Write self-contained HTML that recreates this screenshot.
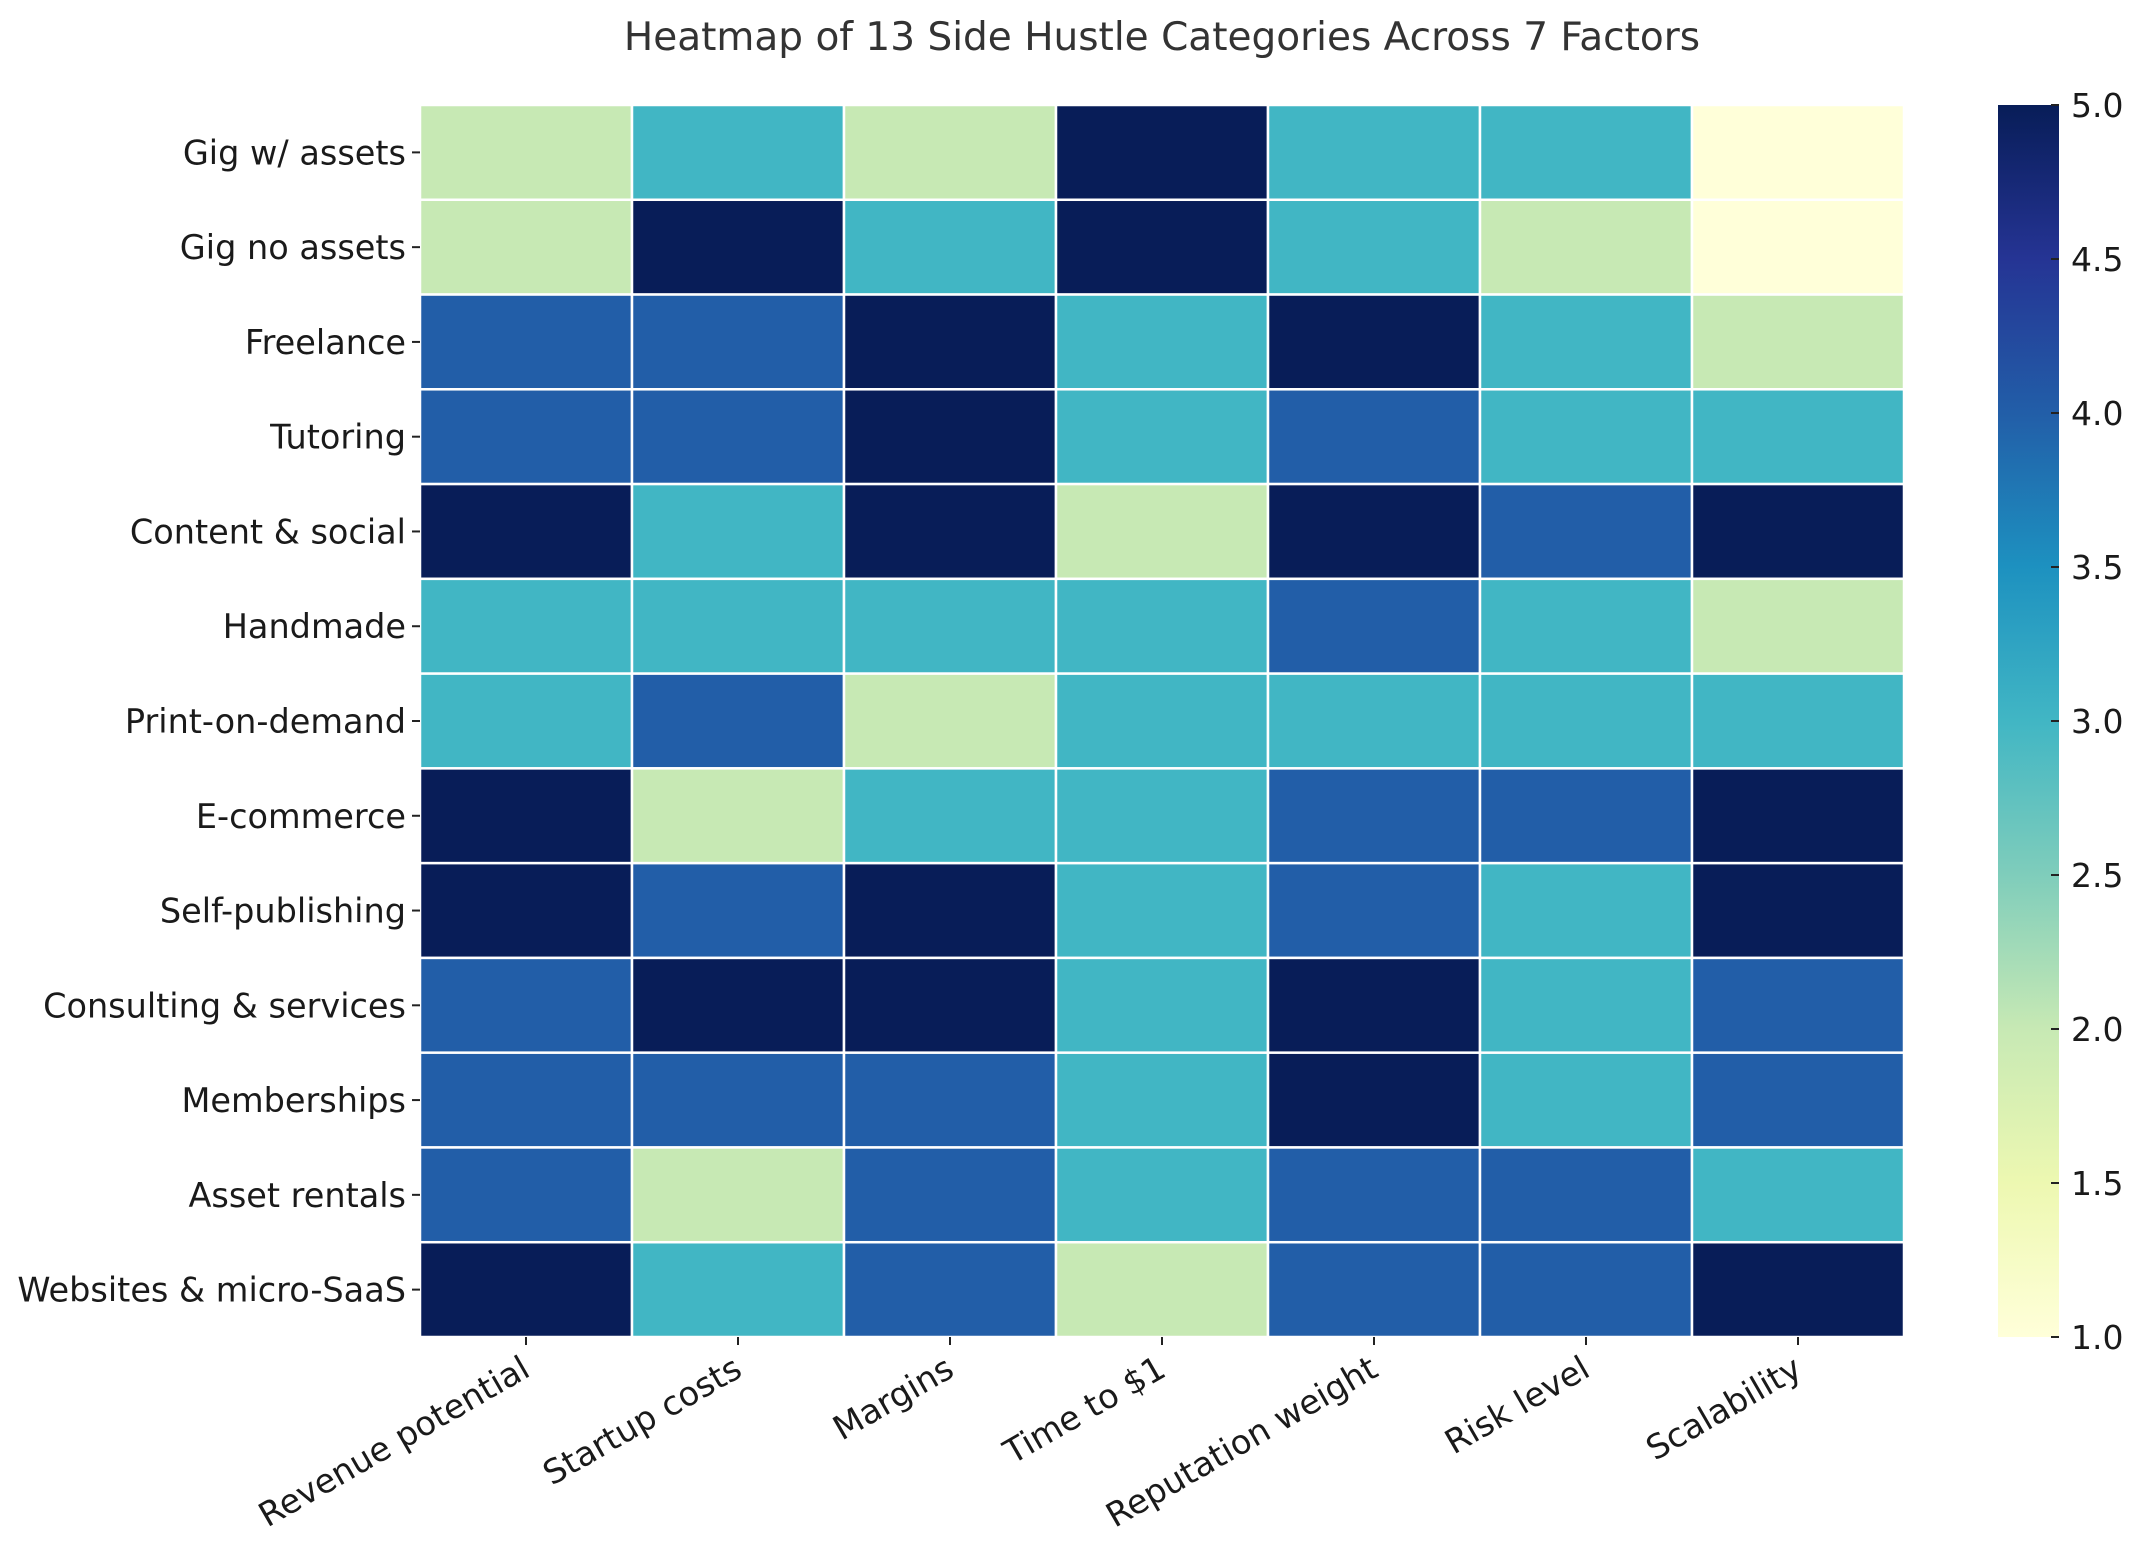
<!DOCTYPE html>
<html><head><meta charset="utf-8"><style>
html,body{margin:0;padding:0;background:#fff;}
svg{display:block;font-family:"DejaVu Sans","Liberation Sans",sans-serif;}
</style></head><body>
<svg id="chart" width="2142" height="1548" viewBox="0 0 2142 1548" xmlns="http://www.w3.org/2000/svg">
<defs>
<linearGradient id="cbgrad" x1="0" y1="1" x2="0" y2="0">
<stop offset="0" stop-color="#ffffd9"/><stop offset="0.125" stop-color="#edf8b1"/><stop offset="0.25" stop-color="#c7e9b4"/><stop offset="0.375" stop-color="#7fcdbb"/><stop offset="0.5" stop-color="#41b6c4"/><stop offset="0.625" stop-color="#1d91c0"/><stop offset="0.75" stop-color="#225ea8"/><stop offset="0.875" stop-color="#253494"/><stop offset="1" stop-color="#081d58"/>
</linearGradient>
</defs>
<text x="1162" y="50" text-anchor="middle" font-size="39" fill="#333">Heatmap of 13 Side Hustle Categories Across 7 Factors</text>
<g id="cells"></g>
<g id="yaxis"></g>
<g id="xaxis"></g>
<rect x="1998" y="105" width="61" height="1232" fill="url(#cbgrad)"/>
<g id="cbaxis"></g>
</svg>
<script>
const categories = ["Gig w/ assets","Gig no assets","Freelance","Tutoring","Content & social","Handmade","Print-on-demand","E-commerce","Self-publishing","Consulting & services","Memberships","Asset rentals","Websites & micro-SaaS"];
const factors = ["Revenue potential","Startup costs","Margins","Time to $1","Reputation weight","Risk level","Scalability"];
const values = [
[2,3,2,5,3,3,1],
[2,5,3,5,3,2,1],
[4,4,5,3,5,3,2],
[4,4,5,3,4,3,3],
[5,3,5,2,5,4,5],
[3,3,3,3,4,3,2],
[3,4,2,3,3,3,3],
[5,2,3,3,4,4,5],
[5,4,5,3,4,3,5],
[4,5,5,3,5,3,4],
[4,4,4,3,5,3,4],
[4,2,4,3,4,4,3],
[5,3,4,2,4,4,5]
];
const cbTicks = [1.0,1.5,2.0,2.5,3.0,3.5,4.0,4.5,5.0];
const vmin = 1, vmax = 5;
const L=420, R=1904, T=105, B=1337;
const cw=(R-L)/factors.length, ch=(B-T)/categories.length;
const NS="http://www.w3.org/2000/svg";
const stops=[[0,[255,255,217]],[0.125,[237,248,177]],[0.25,[199,233,180]],[0.375,[127,205,187]],[0.5,[65,182,196]],[0.625,[29,145,192]],[0.75,[34,94,168]],[0.875,[37,52,148]],[1,[8,29,88]]];
function color(v){let t=(v-vmin)/(vmax-vmin);t=Math.max(0,Math.min(1,t));
for(let i=1;i<stops.length;i++){if(t<=stops[i][0]){const a=stops[i-1],b=stops[i];const f=(t-a[0])/(b[0]-a[0]);
const c=a[1].map((x,k)=>Math.round(x+(b[1][k]-x)*f));return `rgb(${c[0]},${c[1]},${c[2]})`;}}return "rgb(8,29,88)";}
function xs(j){return L+j*cw;}
function ys(i){return T+i*ch;}
function cy(v){return B-(v-vmin)/(vmax-vmin)*(B-T);}
function mk(tag,attrs,parent){const e=document.createElementNS(NS,tag);for(const k in attrs)e.setAttribute(k,attrs[k]);parent.appendChild(e);return e;}
const cells=document.getElementById('cells'),ya=document.getElementById('yaxis'),xa=document.getElementById('xaxis'),cb=document.getElementById('cbaxis');
values.forEach((row,i)=>row.forEach((v,j)=>{
const r=mk('rect',{x:xs(j),y:ys(i),width:cw,height:ch,fill:color(v),stroke:'#fff','stroke-width':2.5},cells);


}));
categories.forEach((c,i)=>{
const y=ys(i)+ch/2;
const t=mk('line',{x1:L-8,x2:L,y1:y,y2:y,stroke:'#222','stroke-width':2},ya);


const tx=mk('text',{x:L-14,y:y+12,'text-anchor':'end','font-size':33.5,fill:'#1a1a1a'},ya);
tx.textContent=c;


});
factors.forEach((f,j)=>{
const x=xs(j)+cw/2;
const t=mk('line',{x1:x,x2:x,y1:B,y2:B+8,stroke:'#222','stroke-width':2},xa);


const tx=mk('text',{x:0,y:0,'text-anchor':'end','font-size':33.5,fill:'#1a1a1a',transform:`translate(${x+6},${B+38}) rotate(-30)`},xa);
tx.textContent=f;


});
cbTicks.forEach(v=>{
const y=cy(v);
const t=mk('line',{x1:2051,x2:2059,y1:y,y2:y,stroke:'#222','stroke-width':2},cb);


const tx=mk('text',{x:2071,y:y+12,'font-size':33,fill:'#1a1a1a'},cb);
tx.textContent=v.toFixed(1);


});
</script>
</body></html>
